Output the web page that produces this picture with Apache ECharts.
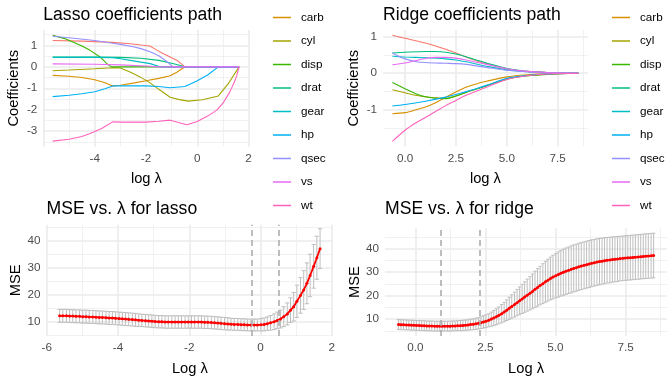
<!DOCTYPE html>
<html><head><meta charset="utf-8">
<script src="https://cdn.jsdelivr.net/npm/echarts@6/dist/echarts.min.js"></script>
<style>html,body{margin:0;padding:0;background:#fff}#c{width:667px;height:377px}</style>
</head><body><div id="c"></div>
<script>
// ---------------- DATA ----------------
const varNames = ['am','carb','cyl','disp','drat','gear','hp','qsec','vs','wt'];

// Lasso coefficient paths [log lambda, coefficient]
const lassoAm   = [[-5.64,1.23],[-4.5,1.2],[-3.3,1.14],[-2.6,1.08],[-2.2,1.02],[-1.85,0.97],[-1.58,0.78],[-1.3,0.6],[-1.06,0.46],[-0.75,0.27],[-0.48,0],[1.63,0]];
const lassoCarb = [[-5.64,-0.40],[-5,-0.44],[-4.5,-0.5],[-4,-0.6],[-3.6,-0.74],[-3.3,-0.89],[-3,-0.86],[-2.5,-0.76],[-2,-0.65],[-1.5,-0.54],[-1.06,-0.42],[-0.8,-0.25],[-0.48,0],[1.63,0]];
const lassoCyl  = [[-5.64,-0.18],[-5,-0.15],[-4,-0.09],[-3.3,-0.04],[-3.0,-0.05],[-2.6,-0.25],[-2.23,-0.47],[-1.84,-0.75],[-1.5,-1.05],[-1.06,-1.42],[-0.7,-1.53],[-0.35,-1.6],[0.2,-1.54],[0.82,-1.36],[1.2,-0.8],[1.63,0]];
const lassoDisp = [[-5.64,1.47],[-5.2,1.33],[-4.83,1.15],[-4.5,0.97],[-4.18,0.77],[-3.79,0.46],[-3.53,0.15],[-3.35,0],[1.63,0]];
const lassoDrat = [[-5.64,0.46],[-4,0.46],[-3,0.44],[-2.2,0.4],[-1.5,0.3],[-1.0,0.17],[-0.48,0],[1.63,0]];
const lassoGear = [[-5.64,0.44],[-4,0.44],[-3.3,0.43],[-3,0.38],[-2.5,0.28],[-2.2,0.22],[-1.84,0.15],[-1.45,0],[1.63,0]];
const lassoHp   = [[-5.64,-1.39],[-5,-1.33],[-4.5,-1.26],[-4,-1.16],[-3.6,-1.02],[-3.3,-0.89],[-2,-0.89],[-1.5,-0.92],[-1.06,-0.98],[-0.48,-0.92],[0,-0.65],[0.4,-0.38],[0.82,0],[1.63,0]];
const lassoQsec = [[-5.64,1.43],[-5,1.36],[-4,1.23],[-3.3,1.1],[-3,1.05],[-2.5,0.94],[-2.2,0.85],[-1.84,0.7],[-1.5,0.52],[-1.19,0.25],[-0.95,0],[1.63,0]];
const lassoVs   = [[-5.64,0.14],[-4,0.12],[-3,0.09],[-2,0.04],[-1.5,0],[1.63,0]];
const lassoWt   = [[-5.64,-3.47],[-5,-3.38],[-4.5,-3.25],[-4.18,-3.11],[-3.73,-2.88],[-3.3,-2.57],[-3,-2.58],[-2,-2.58],[-1.5,-2.54],[-1.06,-2.49],[-0.41,-2.7],[0,-2.55],[0.4,-2.3],[0.76,-2.02],[1.0,-1.7],[1.27,-1.17],[1.45,-0.7],[1.54,-0.4],[1.63,0]];

// Ridge coefficient paths [log lambda, coefficient]
const ridgeAm   = [[-0.62,1.03],[0,0.95],[1,0.82],[2,0.65],[2.5,0.55],[3,0.44],[3.5,0.34],[4,0.26],[5,0.12],[6,0.05],[7,0.02],[8.52,0]];
const ridgeCarb = [[-0.62,-1.1],[0,-1.07],[0.5,-1.0],[1,-0.92],[1.5,-0.8],[2,-0.65],[2.5,-0.51],[3,-0.38],[3.5,-0.29],[4,-0.22],[5,-0.1],[6,-0.04],[7,-0.01],[8.52,0]];
const ridgeCyl  = [[-0.62,-0.45],[0,-0.53],[0.5,-0.6],[1,-0.64],[1.5,-0.67],[2,-0.68],[2.5,-0.62],[3,-0.52],[3.5,-0.43],[4,-0.34],[5,-0.16],[6,-0.07],[7,-0.03],[8.52,0]];
const ridgeDisp = [[-0.62,-0.25],[0,-0.42],[0.5,-0.55],[1,-0.64],[1.5,-0.68],[2,-0.69],[2.5,-0.62],[3,-0.52],[3.5,-0.43],[4,-0.34],[5,-0.16],[6,-0.07],[7,-0.03],[8.52,0]];
const ridgeDrat = [[-0.62,0.55],[0,0.57],[1,0.59],[1.5,0.59],[2,0.57],[2.5,0.52],[3,0.45],[3.5,0.36],[4,0.28],[5,0.13],[6,0.05],[7,0.02],[8.52,0]];
const ridgeGear = [[-0.62,0.46],[0,0.44],[1,0.42],[2,0.39],[2.5,0.36],[3,0.31],[3.5,0.25],[4,0.19],[5,0.09],[6,0.04],[7,0.01],[8.52,0]];
const ridgeHp   = [[-0.62,-0.89],[0,-0.85],[1,-0.76],[2,-0.65],[2.5,-0.58],[3,-0.5],[3.5,-0.42],[4,-0.33],[5,-0.14],[6,-0.06],[7,-0.02],[8.52,0]];
const ridgeQsec = [[-0.62,0.55],[-0.3,0.46],[0,0.39],[0.5,0.32],[1,0.29],[2,0.27],[2.5,0.26],[3,0.24],[3.5,0.2],[4,0.16],[5,0.08],[6,0.04],[7,0.01],[8.52,0]];
const ridgeVs   = [[-0.62,0.23],[0,0.28],[0.5,0.34],[1,0.4],[1.5,0.43],[2,0.43],[2.5,0.41],[3,0.36],[3.5,0.3],[4,0.24],[5,0.12],[6,0.05],[7,0.02],[8.52,0]];
const ridgeWt   = [[-0.62,-1.85],[0,-1.55],[0.5,-1.36],[1,-1.2],[1.5,-1.04],[2,-0.88],[2.5,-0.74],[3,-0.6],[3.5,-0.49],[4,-0.38],[5,-0.17],[6,-0.07],[7,-0.02],[8.52,0]];

// Lasso cross-validation
const lassoLogLambda = [-5.64,-5.55,-5.45,-5.36,-5.27,-5.18,-5.08,-4.99,-4.90,-4.81,
 -4.71,-4.62,-4.53,-4.44,-4.34,-4.25,-4.16,-4.07,-3.97,-3.88,
 -3.79,-3.70,-3.60,-3.51,-3.42,-3.33,-3.23,-3.14,-3.05,-2.96,
 -2.86,-2.77,-2.68,-2.59,-2.49,-2.40,-2.31,-2.22,-2.12,-2.03,
 -1.94,-1.85,-1.75,-1.66,-1.57,-1.48,-1.38,-1.29,-1.20,-1.11,
 -1.01,-0.92,-0.83,-0.74,-0.64,-0.55,-0.46,-0.37,-0.27,-0.18,
 -0.09,0.01,0.10,0.19,0.28,0.38,0.47,0.56,0.65,0.75,
 0.84,0.93,1.02,1.12,1.21,1.30,1.39,1.49,1.58,1.67];
const lassoMSE = [12.2,12.2,12.2,12.1,12.1,12.0,12.0,11.9,11.9,11.8,
 11.8,11.7,11.6,11.6,11.5,11.4,11.4,11.3,11.2,11.1,
 11.0,10.9,10.8,10.7,10.6,10.5,10.4,10.3,10.2,10.1,
 10.0,10.0,9.9,9.9,9.9,9.9,9.9,9.9,9.9,9.9,
 9.9,9.9,9.9,9.9,9.8,9.8,9.7,9.6,9.5,9.4,
 9.3,9.2,9.1,9.0,9.0,8.9,8.9,8.8,8.8,8.8,
 8.8,8.9,9.0,9.3,9.6,10.0,10.5,11.0,11.9,12.9,
 14.3,15.6,17.6,19.8,21.8,24.3,27.2,30.6,33.8,37.2];
const lassoSE = [2.4,2.4,2.4,2.4,2.4,2.4,2.4,2.4,2.4,2.4,
 2.4,2.4,2.4,2.4,2.4,2.4,2.4,2.4,2.4,2.4,
 2.4,2.4,2.4,2.4,2.3,2.3,2.3,2.3,2.3,2.3,
 2.3,2.3,2.3,2.3,2.3,2.3,2.3,2.3,2.3,2.3,
 2.3,2.3,2.3,2.3,2.3,2.3,2.3,2.3,2.3,2.3,
 2.3,2.3,2.2,2.2,2.2,2.2,2.2,2.2,2.2,2.2,
 2.2,2.3,2.4,2.5,2.7,2.9,3.1,3.3,3.7,4.1,
 4.6,5.3,6.0,6.6,7.2,7.6,7.9,8.1,8.0,7.4];
const lassoCutoffs = [-0.24, 0.52];

// Ridge cross-validation
const ridgeLogLambda = [-0.60,-0.51,-0.42,-0.32,-0.23,-0.14,-0.05,0.04,0.14,0.23,
 0.32,0.41,0.50,0.59,0.69,0.78,0.87,0.96,1.05,1.15,
 1.24,1.33,1.42,1.51,1.61,1.70,1.79,1.88,1.97,2.07,
 2.16,2.25,2.34,2.43,2.52,2.62,2.71,2.80,2.89,2.98,
 3.08,3.17,3.26,3.35,3.44,3.54,3.63,3.72,3.81,3.90,
 3.99,4.09,4.18,4.27,4.36,4.45,4.55,4.64,4.73,4.82,
 4.91,5.01,5.10,5.19,5.28,5.37,5.47,5.56,5.65,5.74,
 5.83,5.92,6.02,6.11,6.20,6.29,6.38,6.48,6.57,6.66,
 6.75,6.84,6.94,7.03,7.12,7.21,7.30,7.40,7.49,7.58,
 7.67,7.76,7.85,7.95,8.04,8.13,8.22,8.31,8.41,8.50];
const ridgeMSE = [7.7,7.6,7.6,7.5,7.5,7.4,7.4,7.3,7.3,7.2,
 7.2,7.1,7.1,7.1,7.0,7.0,7.0,7.0,7.0,7.0,
 7.0,7.1,7.1,7.2,7.2,7.3,7.4,7.5,7.7,7.8,
 8.0,8.2,8.5,8.8,9.1,9.5,10.0,10.5,11.0,11.6,
 12.3,13.0,13.8,14.6,15.4,16.2,17.0,17.8,18.6,19.4,
 20.2,21.0,21.8,22.7,23.5,24.3,25.1,25.9,26.6,27.3,
 27.9,28.5,29.0,29.5,30.0,30.4,30.8,31.2,31.6,31.9,
 32.3,32.6,32.9,33.2,33.5,33.8,34.0,34.3,34.5,34.7,
 34.9,35.1,35.2,35.4,35.5,35.6,35.8,35.9,36.0,36.1,
 36.2,36.3,36.4,36.5,36.6,36.7,36.8,36.9,37.0,37.1];
const ridgeSE = [2.1,2.1,2.1,2.1,2.1,2.1,2.1,2.1,2.1,2.1,
 2.1,2.1,2.1,2.1,2.1,2.1,2.1,2.1,2.1,2.1,
 2.1,2.1,2.1,2.1,2.2,2.2,2.2,2.2,2.3,2.3,
 2.4,2.4,2.5,2.6,2.7,2.8,3.0,3.2,3.4,3.6,
 3.9,4.1,4.4,4.7,5.0,5.3,5.6,5.9,6.2,6.5,
 6.8,7.1,7.4,7.7,8.0,8.2,8.5,8.7,8.9,9.1,
 9.3,9.4,9.6,9.7,9.8,9.9,9.9,10.0,10.0,10.0,
 10.0,10.0,10.0,10.0,10.0,10.0,9.9,9.9,9.9,9.8,
 9.8,9.7,9.7,9.6,9.6,9.6,9.5,9.5,9.5,9.5,
 9.5,9.5,9.5,9.5,9.5,9.5,9.5,9.5,9.5,9.5];
const ridgeCutoffs = [0.89, 2.29];

// Tick values (major = labelled gridlines, minor = unlabelled gridlines)
const lassoXMajor = [-6,-4,-2,0,2];
const lassoXMinor = [-5,-3,-1,1];
const lassoPathXLabels = [-4,-2,0,2];
const lassoCvXLabels = [-6,-4,-2,0,2];
const ridgeXMajor = [0,2.5,5,7.5];
const ridgeXMinor = [1.25,3.75,6.25,8.75];
const lassoYMajor = [-3,-2,-1,0,1];
const lassoYMinor = [-3.5,-2.5,-1.5,-0.5,0.5,1.5];
const ridgeYMajor = [-1,0,1];
const ridgeYMinor = [-1.5,-0.5,0.5];
const mseYMajor = [10,20,30,40];
const mseYMinor = [5,15,25,35,45];

// ---------------- STYLE / LAYOUT ----------------
const FONT = "'Liberation Sans', Arial, sans-serif";
const palette = ['#F8766D','#D89000','#A3A500','#39B600','#00BF7D','#00BFC4','#00B0F6','#9590FF','#E76BF3','#FF62BC'];
const lassoPaths = [lassoAm,lassoCarb,lassoCyl,lassoDisp,lassoDrat,lassoGear,lassoHp,lassoQsec,lassoVs,lassoWt];
const ridgePaths = [ridgeAm,ridgeCarb,ridgeCyl,ridgeDisp,ridgeDrat,ridgeGear,ridgeHp,ridgeQsec,ridgeVs,ridgeWt];

const grids = [
  {left: 43.3, top: 30, width: 206.2, height: 116.5},
  {left: 383.1, top: 30, width: 204.6, height: 116.5},
  {left: 46.6, top: 224.7, width: 286.5, height: 116.3},
  {left: 385.1, top: 228.3, width: 288.7, height: 114.7}
];
const MAJOR = {color: '#EBEBEB', width: 1.6};
const MINOR = {color: '#EDEDED', width: 0.8};
const tickText = {color: '#4D4D4D', fontSize: 11.7, fontFamily: FONT};
const nameText = {color: '#000', fontSize: 14.7, fontFamily: FONT};

function xAxes(g, min, max, major, minor, labels, name, fmt) {
  return [
    {type: 'value', gridIndex: g, min, max, position: 'bottom',
     axisLine: {show: false}, axisTick: {show: false, customValues: major},
     axisLabel: {customValues: labels, margin: 6, formatter: fmt, ...tickText},
     splitLine: {show: true, lineStyle: MAJOR},
     name, nameLocation: 'middle', nameGap: 25, nameTextStyle: nameText},
    {type: 'value', gridIndex: g, min, max, position: 'bottom',
     axisLine: {show: false}, axisTick: {show: false, customValues: minor},
     axisLabel: {show: false, customValues: minor},
     splitLine: {show: true, lineStyle: MINOR}}
  ];
}
function yAxes(g, min, max, major, minor, name) {
  return [
    {type: 'value', gridIndex: g, min, max, position: 'left',
     axisLine: {show: false}, axisTick: {show: false, customValues: major},
     axisLabel: {customValues: major, margin: 6, ...tickText},
     splitLine: {show: true, lineStyle: MAJOR},
     name, nameLocation: 'middle', nameGap: 22, nameTextStyle: nameText},
    {type: 'value', gridIndex: g, min, max, position: 'left',
     axisLine: {show: false}, axisTick: {show: false, customValues: minor},
     axisLabel: {show: false, customValues: minor},
     splitLine: {show: true, lineStyle: MINOR}}
  ];
}
const f1 = v => v.toFixed(1);
const f0 = v => String(v);

const xAxis = [].concat(
  xAxes(0, -6.0055, 2.0355, lassoXMajor, lassoXMinor, lassoPathXLabels, 'log λ', f0),
  xAxes(1, -1.077, 8.977, ridgeXMajor, ridgeXMinor, ridgeXMajor, 'log λ', f1),
  xAxes(2, -6.0055, 2.0355, lassoXMajor, lassoXMinor, lassoCvXLabels, 'Log λ', f0),
  xAxes(3, -1.077, 8.977, ridgeXMajor, ridgeXMinor, ridgeXMajor, 'Log λ', f1)
);
const yAxis = [].concat(
  yAxes(0, -3.72, 1.72, lassoYMajor, lassoYMinor, 'Coefficients'),
  yAxes(1, -1.99, 1.174, ridgeYMajor, ridgeYMinor, 'Coefficients'),
  yAxes(2, 4.7, 46.1, mseYMajor, mseYMinor, 'MSE'),
  yAxes(3, 2.8, 48.7, mseYMajor, mseYMinor, 'MSE')
);

const series = [];
varNames.forEach((n, i) => {
  series.push({type: 'line', name: n, xAxisIndex: 0, yAxisIndex: 0, data: lassoPaths[i],
    showSymbol: false, symbol: 'none', color: palette[i], lineStyle: {width: 1.1, color: palette[i]}, z: 2 + i});
});
varNames.forEach((n, i) => {
  series.push({type: 'line', name: n, xAxisIndex: 2, yAxisIndex: 2, data: ridgePaths[i],
    showSymbol: false, symbol: 'none', smooth: 0.3, color: palette[i], lineStyle: {width: 1.1, color: palette[i]}, z: 2 + i});
});

const CAP_W = 0.12;
function errorBars(xArr, mArr, sArr, axisIdx) {
  return {
    type: 'custom', xAxisIndex: axisIdx, yAxisIndex: axisIdx, silent: true, z: 2,
    data: xArr.map((x, i) => [x, mArr[i] - sArr[i], mArr[i] + sArr[i]]),
    encode: {x: 0, y: [1, 2]},
    renderItem: (params, api) => {
      const x = api.value(0);
      const pLo = api.coord([x, api.value(1)]);
      const pHi = api.coord([x, api.value(2)]);
      const half = api.size([CAP_W, 0])[0] / 2;
      const style = {stroke: '#BEBEBE', lineWidth: 1, fill: null};
      return {type: 'group', children: [
        {type: 'line', shape: {x1: pLo[0], y1: pLo[1], x2: pHi[0], y2: pHi[1]}, style},
        {type: 'line', shape: {x1: pHi[0] - half, y1: pHi[1], x2: pHi[0] + half, y2: pHi[1]}, style},
        {type: 'line', shape: {x1: pLo[0] - half, y1: pLo[1], x2: pLo[0] + half, y2: pLo[1]}, style}
      ]};
    }
  };
}
function mseLine(xArr, mArr, cutoffs, axisIdx, nm) {
  return {
    type: 'line', name: nm, xAxisIndex: axisIdx, yAxisIndex: axisIdx, z: 4,
    data: xArr.map((x, i) => [x, mArr[i]]),
    symbol: 'circle', symbolSize: 3, showSymbol: true,
    itemStyle: {color: '#FF0000'}, lineStyle: {color: '#FF0000', width: 1.8},
    markLine: {silent: true, symbol: 'none', label: {show: false},
      lineStyle: {color: '#A8A8A8', type: [6, 4], width: 1.5},
      data: cutoffs.map(v => ({xAxis: v}))}
  };
}
series.push(errorBars(lassoLogLambda, lassoMSE, lassoSE, 4));
series.push(mseLine(lassoLogLambda, lassoMSE, lassoCutoffs, 4, 'lasso cv'));
series.push(errorBars(ridgeLogLambda, ridgeMSE, ridgeSE, 6));
series.push(mseLine(ridgeLogLambda, ridgeMSE, ridgeCutoffs, 6, 'ridge cv'));

const titleStyle = {fontSize: 17.6, fontWeight: 'normal', color: '#000', fontFamily: FONT};
const legendBase = {data: varNames, orient: 'vertical', top: -12, padding: 0,
  itemWidth: 18, itemHeight: 1.5, itemGap: 11.5, icon: 'rect', selectedMode: false,
  textStyle: {fontSize: 11.7, color: '#000', fontFamily: FONT, padding: [0, 0, 0, 5]}};

const option = {
  animation: false,
  backgroundColor: '#fff',
  title: [
    {text: 'Lasso coefficients path', left: 43.3, top: 6.5, padding: 0, textStyle: titleStyle},
    {text: 'Ridge coefficients path', left: 383.1, top: 6.5, padding: 0, textStyle: titleStyle},
    {text: 'MSE vs. λ for lasso', left: 46.6, top: 200.5, padding: 0, textStyle: titleStyle},
    {text: 'MSE vs. λ for ridge', left: 385.1, top: 200.5, padding: 0, textStyle: titleStyle}
  ],
  legend: [
    Object.assign({}, legendBase, {left: 273}),
    Object.assign({}, legendBase, {left: 612})
  ],
  grid: grids,
  xAxis, yAxis, series
};
const chart = echarts.init(document.getElementById('c'), null, {renderer: 'canvas'});
chart.setOption(option);
</script></body></html>
